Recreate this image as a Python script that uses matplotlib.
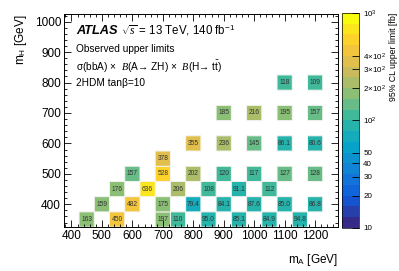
"""ATLAS A->ZH (H->tt) observed upper limits on sigma x BR, 2HDM tanb=10."""
import matplotlib
matplotlib.use('Agg')
import matplotlib.pyplot as plt
import numpy as np
from matplotlib.colors import LinearSegmentedColormap, ListedColormap, LogNorm
from matplotlib.ticker import FixedLocator, NullFormatter, AutoMinorLocator

plt.rcParams['font.family'] = ['Liberation Sans', 'DejaVu Sans']
plt.rcParams['mathtext.fontset'] = 'custom'
plt.rcParams['mathtext.rm'] = 'Liberation Sans'
plt.rcParams['mathtext.it'] = 'Liberation Serif:italic'
plt.rcParams['mathtext.bf'] = 'Liberation Sans:bold'

# --- data: (mA, mH) mass points and observed limit [fb] ---
mA_pts = [450, 550, 700, 750, 850, 950, 1050, 1150,
          500, 600, 700, 800, 900, 1000, 1100, 1200,
          550, 650, 750, 850, 950, 1050,
          600, 700, 800, 900, 1000, 1100, 1200,
          700,
          800, 900, 1000, 1100, 1200,
          900, 1000, 1100, 1200,
          1100, 1200]
mH_pts = [350] * 8 + [400] * 8 + [450] * 6 + [500] * 7 + [550] + [600] * 5 + [700] * 4 + [800] * 2
limits = [163, 450, 197, 110, 95.0, 85.1, 84.9, 94.8,
          159, 482, 175, 79.4, 84.1, 87.6, 85.0, 86.8,
          176, 636, 206, 108, 91.1, 112,
          157, 528, 202, 120, 117, 127, 128,
          378,
          355, 236, 145, 86.1, 80.6,
          185, 216, 195, 157,
          118, 109]

cbar_ticks = [10, 20, 30, 40, 50, 100, 200, 300, 400, 1000]
cbar_labels = ['10', '20', '30', '40', '50', '$10^2$', r'$2{\times}10^2$',
               r'$3{\times}10^2$', r'$4{\times}10^2$', '$10^3$']

# ROOT kBird palette, 20 discrete levels over 10..1000
stops = [0.0, 0.125, 0.25, 0.375, 0.5, 0.625, 0.75, 0.875, 1.0]
red = [0.2082, 0.0592, 0.0780, 0.0232, 0.1802, 0.5301, 0.8186, 0.9956, 0.9764]
green = [0.1664, 0.3599, 0.5041, 0.6419, 0.7178, 0.7492, 0.7328, 0.7862, 0.9832]
blue = [0.5293, 0.8684, 0.8385, 0.7914, 0.6425, 0.4662, 0.3499, 0.1968, 0.0539]
bird = LinearSegmentedColormap.from_list(
    'bird', list(zip(stops, zip(red, green, blue))))
cmap = ListedColormap(bird(np.linspace(0, 1, 20)))
norm = LogNorm(vmin=10, vmax=1000)

# build grid
xe = np.arange(425, 1226, 50)
ye = np.arange(325, 826, 50)
xc = (xe[:-1] + xe[1:]) / 2
yc = (ye[:-1] + ye[1:]) / 2
Z = np.full((len(yc), len(xc)), np.nan)
for a, h, v in zip(mA_pts, mH_pts, limits):
    Z[list(yc).index(h), list(xc).index(a)] = v
Z = np.ma.masked_invalid(Z)

fig = plt.figure(figsize=(3.99, 2.71), dpi=100)
ax = fig.add_axes([0.160, 0.162, 0.687, 0.786])
mesh = ax.pcolor(xe, ye, Z, cmap=cmap, norm=norm, edgecolor='#f4f4f0', linewidth=0.7)

for a, h, v in zip(mA_pts, mH_pts, limits):
    s = f'{v:.1f}' if v < 100 else f'{v:.0f}'
    ax.text(a, h, s, ha='center', va='center', fontsize=4.8, color='#333333')

ax.set_xlim(375, 1275)
ax.set_ylim(325, 1025)
ax.set_xticks(range(400, 1201, 100))
ax.set_yticks(range(400, 1001, 100))
ax.xaxis.set_minor_locator(AutoMinorLocator(5))
ax.yaxis.set_minor_locator(AutoMinorLocator(5))
ax.tick_params(which='both', direction='in', top=True, right=True, labelsize=8.5, pad=2)
ax.tick_params(which='major', length=5, width=0.6)
ax.tick_params(which='minor', length=2.5, width=0.6)
for sp in ax.spines.values():
    sp.set_linewidth(0.7)

ax.set_xlabel('m$_\\mathrm{A}$ [GeV]', fontsize=8.5, loc='right', labelpad=7)
ax.set_ylabel('m$_\\mathrm{H}$ [GeV]', fontsize=8.5, loc='top', labelpad=4)

tx = 0.045
ax.text(tx, 0.922, 'ATLAS', transform=ax.transAxes, fontsize=9.2,
        fontweight='bold', fontstyle='italic', va='center')
ax.text(tx + 0.165, 0.922, r'$\sqrt{s}$ = 13 TeV, 140 fb$^{-1}$', transform=ax.transAxes,
        fontsize=8.3, va='center')
ax.text(tx, 0.838, 'Observed upper limits', transform=ax.transAxes, fontsize=7.3, va='center')
ax.text(tx, 0.75, 'σ(bbA) ×  $\\mathit{B}$(A→ ZH) ×  $\\mathit{B}$(H→ t$\\bar{\\mathrm{t}}$)',
        transform=ax.transAxes, fontsize=7.3, va='center')
ax.text(tx, 0.675, '2HDM tanβ=10', transform=ax.transAxes, fontsize=7.3, va='center')

cax = fig.add_axes([0.857, 0.159, 0.043, 0.793])
cb = fig.colorbar(mesh, cax=cax)
cb.outline.set_linewidth(0.5)
cax.yaxis.set_major_locator(FixedLocator(cbar_ticks))
cax.set_yticklabels(cbar_labels)
cax.yaxis.set_minor_formatter(NullFormatter())
cax.minorticks_off()
cax.tick_params(direction='in', length=5, width=0.6, labelsize=5.8, pad=3)
cb.set_label('95% CL upper limit [fb]', fontsize=6.3, loc='top', labelpad=2)

fig.savefig('out.png', dpi=100)
